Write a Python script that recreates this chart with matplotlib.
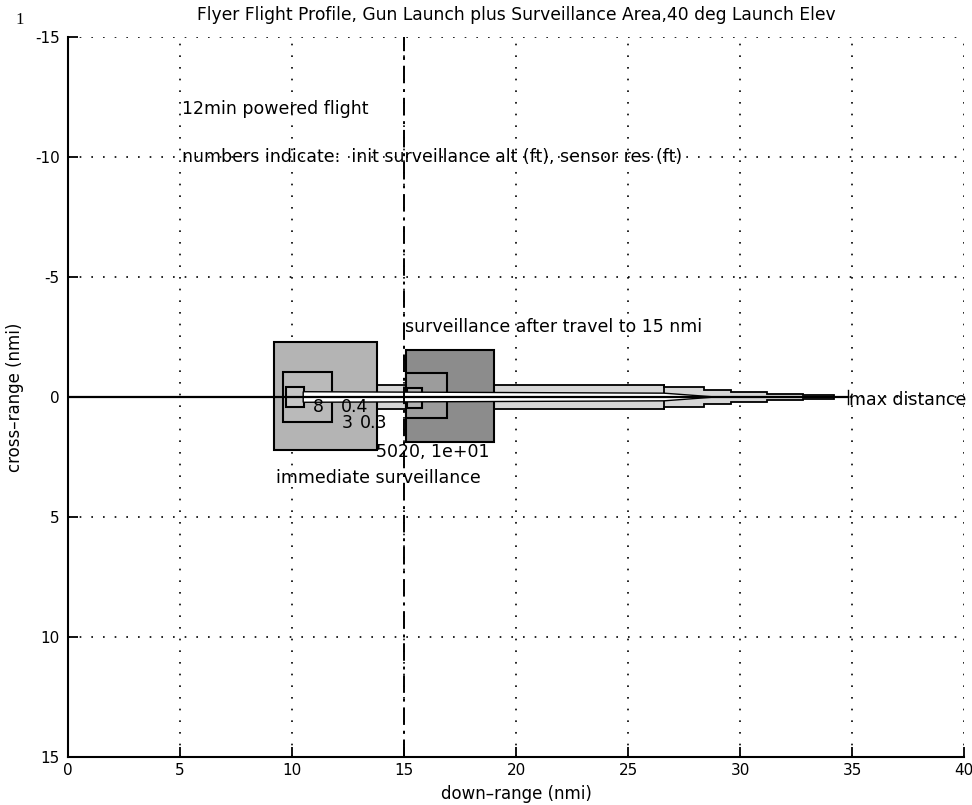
import matplotlib
matplotlib.use('Agg')
import matplotlib.pyplot as plt
from matplotlib.patches import Rectangle, Polygon

plt.rcParams['font.family'] = ['DejaVu Sans']

# ---------------- data ----------------
x_ticks = [0, 5, 10, 15, 20, 25, 30, 35, 40]
y_ticks = [-15, -10, -5, 0, 5, 10, 15]

# flight path (down-range, cross-range)
path_x = [0.0, 34.8]
path_y = [0.0, 0.0]
travel_mark_x = 15.0          # surveillance after travel to 15 nmi

# immediate surveillance areas (left, top, width, height) in nmi
imm_left = [9.2, 9.6, 9.75]
imm_top = [-2.28, -1.05, -0.4]
imm_w = [4.6, 2.2, 0.78]
imm_h = [4.5, 2.08, 0.8]

# surveillance after travel areas
trv_left = [15.1, 15.1, 15.15]
trv_top = [-1.96, -1.0, -0.36]
trv_w = [3.9, 1.8, 0.65]
trv_h = [3.82, 1.88, 0.8]

# outer swath envelope (down-range, half width)
swath_x = [13.8, 26.6, 26.6, 28.4, 28.4, 29.6, 29.6, 31.2, 31.2, 32.8, 32.8, 34.2, 34.2]
swath_h = [0.5, 0.5, 0.4, 0.4, 0.28, 0.28, 0.22, 0.22, 0.14, 0.14, 0.07, 0.07, 0.0]

# inner swath (down-range, half width)
inner_x = [10.5, 26.6, 28.9]
inner_h = [0.22, 0.16, 0.0]

# ---------------- styles ----------------
imm_colors = ['#b4b4b4', '#bababa', '#c6c6c6']
trv_colors = ['#8c8c8c', '#9c9c9c', '#b2b2b2']

fig = plt.figure(figsize=(9.72, 8.05), dpi=100)
ax = fig.add_axes([68/972, 1-757/805, 896/972, 720/805])

# outer swath
up = list(zip(swath_x, [-h for h in swath_h]))
dn = list(zip(swath_x[::-1], swath_h[::-1]))
ax.add_patch(Polygon(up + dn, closed=True, facecolor='#d6d6d6', edgecolor='black', lw=1.3, zorder=2))
ax.plot([swath_x[1], swath_x[2]], [-swath_h[1], swath_h[1]], color='black', lw=1.3, zorder=2)

for l, t, w, h, c in zip(imm_left, imm_top, imm_w, imm_h, imm_colors):
    ax.add_patch(Rectangle((l, t), w, h, facecolor=c, edgecolor='black', lw=1.5, zorder=3))
for l, t, w, h, c in zip(trv_left, trv_top, trv_w, trv_h, trv_colors):
    ax.add_patch(Rectangle((l, t), w, h, facecolor=c, edgecolor='black', lw=1.5, zorder=3))

iu = list(zip(inner_x, [-h for h in inner_h]))
idn = list(zip(inner_x[::-1], inner_h[::-1]))
ax.add_patch(Polygon(iu + idn, closed=True, facecolor='white', edgecolor='black', lw=1.0, zorder=4))

ax.plot(path_x, path_y, color='black', lw=1.6, zorder=5)
ax.plot([path_x[1], path_x[1]], [-0.3, 0.3], color='black', lw=1.0, zorder=5)

ax.axvline(travel_mark_x, color='black', lw=1.4, linestyle=(0, (9, 3, 1.5, 3)), zorder=6)

ax.set_xlim(0, 40)
ax.set_ylim(15, -15)
ax.set_xticks(x_ticks)
ax.set_yticks(y_ticks)
ax.set_xticklabels([str(v) for v in x_ticks])
ax.set_yticklabels([str(v) for v in y_ticks])
ax.grid(True, color='black', linestyle=(0, (1, 6)), lw=1.2)
ax.set_axisbelow(True)
for s in ['top', 'right']:
    ax.spines[s].set_visible(False)
for s in ['left', 'bottom']:
    ax.spines[s].set_linewidth(1.5)
ax.tick_params(direction='in', length=7, width=1.3, labelsize=11, top=False, right=False)
ax.tick_params(axis='x', pad=4)
ax.tick_params(axis='y', pad=6)

ax.set_xlabel('down\u2013range (nmi)', fontsize=12, labelpad=5)
ax.set_ylabel('cross\u2013range (nmi)', fontsize=12, labelpad=8)
ax.set_title('Flyer Flight Profile, Gun Launch plus Surveillance Area,40 deg Launch Elev',
             fontsize=12.3, pad=12)

tk = dict(fontsize=12.5, va='center', ha='left', zorder=7)
ax.text(5.1, -12.0, '12min powered flight', **tk)
ax.text(5.1, -10.0, 'numbers indicate:  init surveillance alt (ft), sensor res (ft)', **tk)
ax.text(15.05, -2.9, 'surveillance after travel to 15 nmi', **tk)
ax.text(34.85, 0.12, 'max distance', **tk)
ax.text(9.3, 3.37, 'immediate surveillance', **tk)
ax.text(13.75, 2.3, '5020, 1e+01', **tk)
ax.text(10.95, 0.4, '8', **tk)
ax.text(12.2, 0.4, '0.4', **tk)
ax.text(12.2, 1.08, '3', **tk)
ax.text(13.05, 1.08, '0.3', **tk)

fig.text(20/972, 1-20/805, '1', family='Liberation Serif', fontsize=12, va='center', ha='center')

fig.savefig('out.png', dpi=100)
